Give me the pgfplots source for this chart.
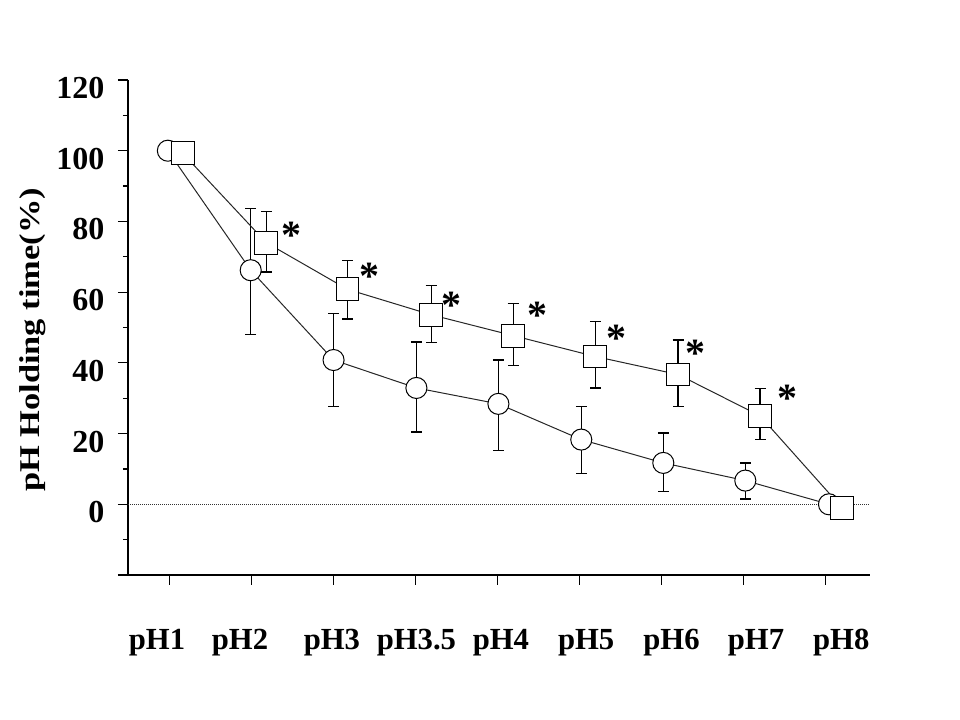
\documentclass[border=0pt]{standalone}
\usepackage{fontspec}
\setmainfont{Liberation Serif}
\usepackage{graphicx}
\usepackage{pgfplots}
\pgfplotsset{compat=1.18}
\usepackage{pgfplotstable}

% pH holding time (%) -- circles (series 1)
\pgfplotstableread{
x     y     ep    em
-0.02 100.0 0.0   0.0
0.99  66.2  17.5  18.2
2.00  40.8  13.1  13.1
3.01  32.9  13.0  12.5
4.01  28.4  12.4  13.1
5.02  18.3   9.4   9.5
6.02  11.7   8.5   8.0
7.02   6.7   5.0   5.2
8.04   0.0   0.0   0.0
}\circledata

% squares (series 2)
\pgfplotstableread{
x     y     ep    em
0.16  99.3  0.0   0.0
1.18  74.0  8.9   8.3
2.17  60.8  8.2   8.4
3.19  53.6  8.2   7.8
4.19  47.7  9.0   8.4
5.19  41.8  9.9   8.9
6.20  36.7  9.8   9.0
7.20  25.0  7.7   6.7
8.20  -1.0  0.0   0.0
}\squaredata

% significance asterisks
\pgfplotstableread{
x     y
1.482 77.5
2.437 65.9
3.433 57.8
4.482 54.8
5.454 48.4
6.409 44.0
7.539 31.5
}\stardata

\begin{document}
\begin{tikzpicture}
\useasboundingbox (-96pt,-108.75pt) rectangle (624pt,431.25pt);
\begin{axis}[
  at={(0,0)}, anchor=south west, scale only axis,
  width=556.5pt, height=371.25pt,
  xmin=-0.506, xmax=8.54, ymin=-20, ymax=120,
  clip=false,
  axis x line=bottom, axis y line=left,
  axis line style={-, line width=0.9pt, black},
  tick align=outside,
  major tick length=7.5pt, minor tick length=3.75pt,
  tick style={black, line width=0.9pt},
  xtick={0,1,2,3,4,5,6,7,8}, xticklabels={},
  extra x ticks={-0.152,0.860,1.98,3.01,4.04,5.08,6.12,7.15,8.19},
  extra x tick labels={pH1,pH2,pH3,pH3.5,pH4,pH5,pH6,pH7,pH8},
  extra x tick style={major tick length=0pt},
  xticklabel style={font=\fontsize{23}{27}\selectfont\bfseries, anchor=base, inner sep=0pt, yshift=-56.25pt},
  ytick={-20,0,20,40,60,80,100,120},
  yticklabels={,0,20,40,60,80,100,120},
  minor y tick num=1,
  yticklabel style={font=\fontsize{24}{28}\selectfont\bfseries, anchor=east, inner sep=0pt, xshift=-10pt, yshift=-6pt},
  /pgf/number format/assume math mode=true,
  ylabel={\scalebox{1.2}[1]{pH Holding time(\%)}},
  ylabel style={at={(axis description cs:-0.128,0.475)}, anchor=center, font=\fontsize{21.5}{25}\selectfont\bfseries},
]
\addplot[black!80, line width=0.5pt, dash pattern=on 0.75pt off 0.75pt, forget plot] coordinates {(-0.506,0) (8.54,0)};

\addplot[black!85, line width=0.75pt, mark=*, mark size=7.9pt,
  mark options={fill=white, draw=black, line width=0.75pt, solid},
  error bars/.cd, y dir=both, y explicit,
  error bar style={black, line width=1pt},
  error mark options={black, line width=1pt, rotate=90, mark size=4.1pt}]
  table[x=x, y=y, y error plus=ep, y error minus=em] {\circledata};

\addplot[black!85, line width=0.75pt, mark=square*, mark size=8.6pt,
  mark options={fill=white, draw=black, line width=0.75pt, solid},
  error bars/.cd, y dir=both, y explicit,
  error bar style={black, line width=1pt},
  error mark options={black, line width=1pt, rotate=90, mark size=4.1pt}]
  table[x=x, y=y, y error plus=ep, y error minus=em] {\squaredata};

\addplot[draw=none, mark=none, nodes near coords={\fontsize{30}{34}\selectfont\bfseries *},
  nodes near coords align={center},
  every node near coord/.append style={inner sep=0pt, yshift=-3.8pt}]
  table[x=x, y=y] {\stardata};
\end{axis}
\end{tikzpicture}
\end{document}
